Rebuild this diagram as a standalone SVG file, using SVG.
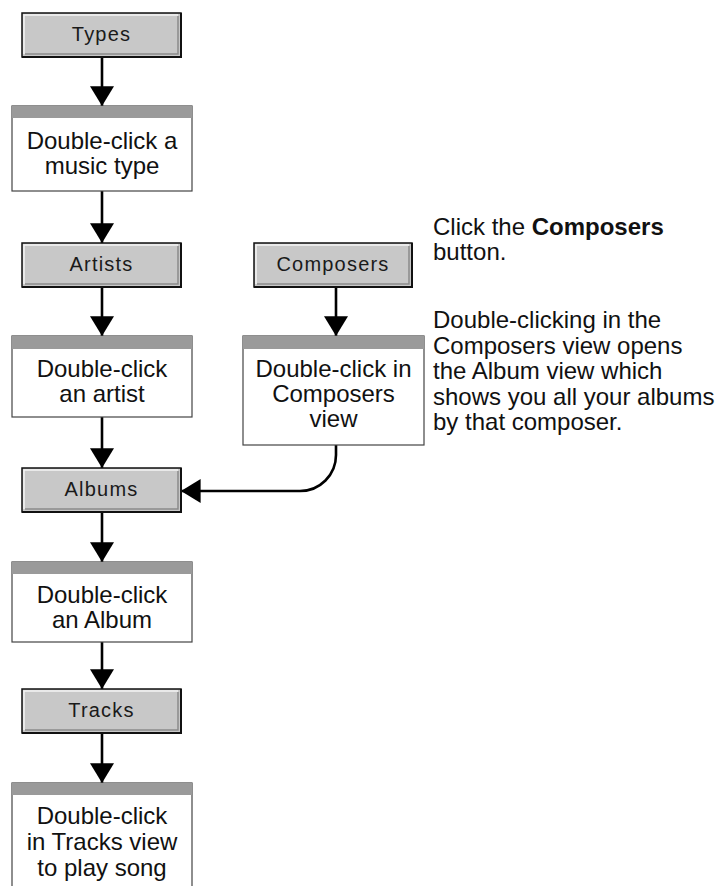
<svg xmlns="http://www.w3.org/2000/svg" width="717" height="886" viewBox="0 0 717 886">
<defs>
<style>
.btn-face{fill:#c8c8c8;stroke:none}
.btn-edge{fill:none;stroke:#111;stroke-width:1.5}
.btn-shadow{fill:none;stroke:#111;stroke-width:2}
.btn-hi{fill:none;stroke:#f4f4f4;stroke-width:1.5}
.btn-lo{fill:none;stroke:#8a8a8a;stroke-width:1.5}
.btn-label{font-family:"Liberation Sans",Arial,sans-serif;font-size:20px;fill:#1a1a1a;text-anchor:middle;letter-spacing:1.2px}
.box{fill:#fff;stroke:#444;stroke-width:1.2}
.bar{fill:#9a9a9a}
.box-text{font-family:"Liberation Sans",Arial,sans-serif;font-size:24px;fill:#111;text-anchor:middle}
.note{font-family:"Liberation Sans",Arial,sans-serif;font-size:24px;fill:#111}
.conn{fill:none;stroke:#000;stroke-width:2.6}
</style>
<marker id="arrow" markerUnits="userSpaceOnUse" markerWidth="24" markerHeight="24" viewBox="0 0 18 22" refX="18" refY="11" orient="auto">
<path d="M0,0 L18,11 L0,22 Z" fill="#000"/>
</marker>
</defs>

<g id="connectors">
<path class="conn" d="M102,57 V106" marker-end="url(#arrow)"/>
<path class="conn" d="M102,191 V243" marker-end="url(#arrow)"/>
<path class="conn" d="M102,287 V336" marker-end="url(#arrow)"/>
<path class="conn" d="M336,287 V336" marker-end="url(#arrow)"/>
<path class="conn" d="M102,417 V468" marker-end="url(#arrow)"/>
<path class="conn" d="M336,445 V455 A36,36 0 0 1 300,491 H181" marker-end="url(#arrow)"/>
<path class="conn" d="M102,512 V562" marker-end="url(#arrow)"/>
<path class="conn" d="M102,642 V689" marker-end="url(#arrow)"/>
<path class="conn" d="M102,733 V783" marker-end="url(#arrow)"/>
</g>

<g id="node-types">
<rect class="btn-face" x="22" y="13" width="159" height="44"/>
<path class="btn-hi" d="M24,54 V15 H178"/>
<path class="btn-lo" d="M25,54 H178 V16"/>
<rect class="btn-edge" x="22" y="13" width="159" height="44"/>
<path class="btn-shadow" d="M22,57 H181 V13"/>
<text class="btn-label" x="101.5" y="41">Types</text>
</g>

<g id="node-musictype">
<rect class="box" x="12" y="106" width="180" height="85"/>
<rect class="bar" x="12" y="106" width="180" height="12"/>
<text class="box-text" x="102" y="149">Double-click a</text>
<text class="box-text" x="102" y="174">music type</text>
</g>

<g id="node-artists">
<rect class="btn-face" x="22" y="243" width="159" height="44"/>
<path class="btn-hi" d="M24,284 V245 H178"/>
<path class="btn-lo" d="M25,284 H178 V246"/>
<rect class="btn-edge" x="22" y="243" width="159" height="44"/>
<path class="btn-shadow" d="M22,287 H181 V243"/>
<text class="btn-label" x="101.5" y="271">Artists</text>
</g>

<g id="node-composers">
<rect class="btn-face" x="254" y="243" width="158" height="44"/>
<path class="btn-hi" d="M256,284 V245 H409"/>
<path class="btn-lo" d="M257,284 H409 V246"/>
<rect class="btn-edge" x="254" y="243" width="158" height="44"/>
<path class="btn-shadow" d="M254,287 H412 V243"/>
<text class="btn-label" x="333" y="271">Composers</text>
</g>

<g id="node-artist">
<rect class="box" x="12" y="336" width="180" height="81"/>
<rect class="bar" x="12" y="336" width="180" height="13"/>
<text class="box-text" x="102" y="377">Double-click</text>
<text class="box-text" x="102" y="402">an artist</text>
</g>

<g id="node-composersview">
<rect class="box" x="243" y="336" width="181" height="109"/>
<rect class="bar" x="243" y="336" width="181" height="13"/>
<text class="box-text" x="333.5" y="377">Double-click in</text>
<text class="box-text" x="333.5" y="402">Composers</text>
<text class="box-text" x="333.5" y="427">view</text>
</g>

<g id="node-albums">
<rect class="btn-face" x="22" y="468" width="159" height="44"/>
<path class="btn-hi" d="M24,509 V470 H178"/>
<path class="btn-lo" d="M25,509 H178 V471"/>
<rect class="btn-edge" x="22" y="468" width="159" height="44"/>
<path class="btn-shadow" d="M22,512 H181 V468"/>
<text class="btn-label" x="101.5" y="496">Albums</text>
</g>

<g id="node-album">
<rect class="box" x="12" y="562" width="180" height="80"/>
<rect class="bar" x="12" y="562" width="180" height="12"/>
<text class="box-text" x="102" y="603">Double-click</text>
<text class="box-text" x="102" y="628">an Album</text>
</g>

<g id="node-tracks">
<rect class="btn-face" x="22" y="689" width="159" height="44"/>
<path class="btn-hi" d="M24,730 V691 H178"/>
<path class="btn-lo" d="M25,730 H178 V692"/>
<rect class="btn-edge" x="22" y="689" width="159" height="44"/>
<path class="btn-shadow" d="M22,733 H181 V689"/>
<text class="btn-label" x="101.5" y="717">Tracks</text>
</g>

<g id="node-play">
<rect class="box" x="12" y="783" width="180" height="110"/>
<rect class="bar" x="12" y="783" width="180" height="12"/>
<text class="box-text" x="102" y="824">Double-click</text>
<text class="box-text" x="102" y="850">in Tracks view</text>
<text class="box-text" x="102" y="876">to play song</text>
</g>

<g id="notes">
<text class="note" x="433" y="235">Click the <tspan font-weight="bold">Composers</tspan></text>
<text class="note" x="433" y="260">button.</text>
<text class="note" x="433" y="328">Double-clicking in the</text>
<text class="note" x="433" y="354">Composers view opens</text>
<text class="note" x="433" y="379">the Album view which</text>
<text class="note" x="433" y="405">shows you all your albums</text>
<text class="note" x="433" y="430">by that composer.</text>
</g>
</svg>
